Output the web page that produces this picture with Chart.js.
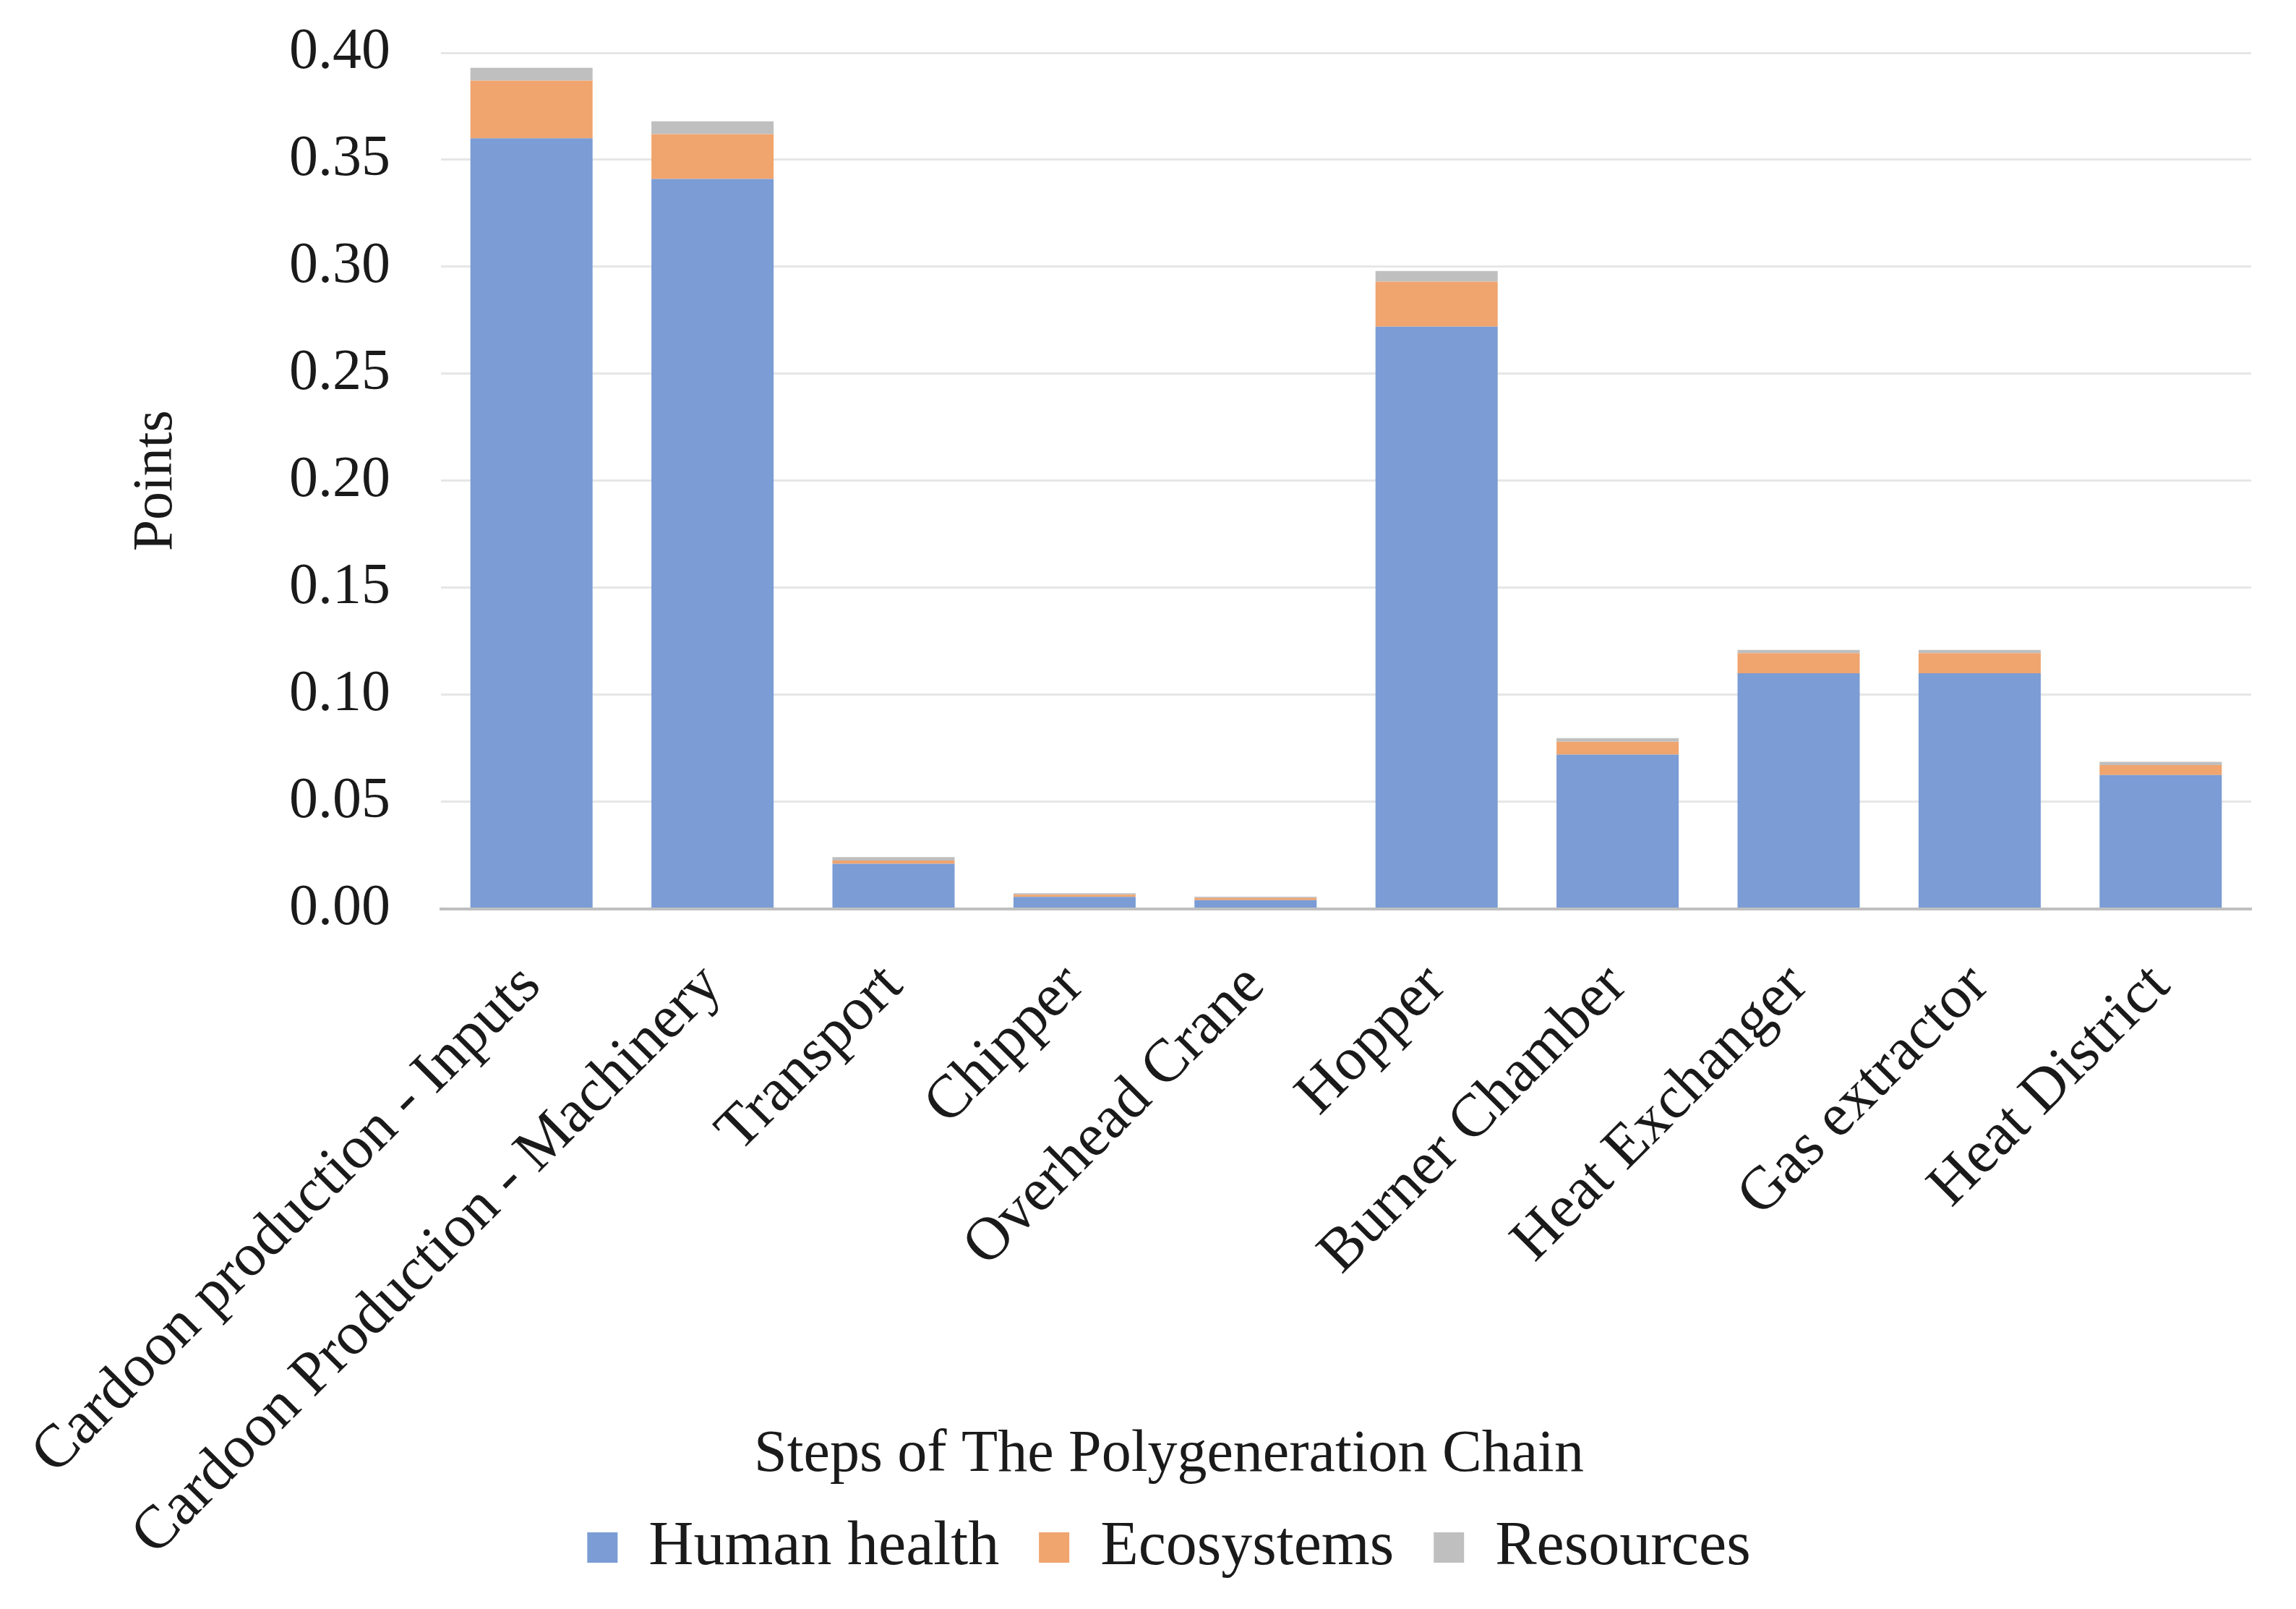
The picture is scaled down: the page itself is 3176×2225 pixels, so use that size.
<!DOCTYPE html>
<html>
<head>
<meta charset="utf-8">
<script src="https://cdn.jsdelivr.net/npm/chart.js@4.4.1/dist/chart.umd.min.js"></script>
<style>
  html, body { margin: 0; padding: 0; background: #fff; }
  #wrap { width: 3176px; height: 2225px; }
</style>
</head>
<body>
<div id="wrap"><canvas id="myChart" width="3176" height="2225"></canvas></div>
<script>
const categories = [
  "Cardoon production - Inputs",
  "Cardoon Production - Machinery",
  "Transport",
  "Chipper",
  "Overhead Crane",
  "Hopper",
  "Burner Chamber",
  "Heat Exchanger",
  "Gas extractor",
  "Heat District",
];
const humanHealth = [0.36, 0.341, 0.021, 0.0055, 0.004, 0.272, 0.072, 0.11, 0.11, 0.0625];
const ecosystems = [0.027, 0.021, 0.0015, 0.001, 0.001, 0.021, 0.006, 0.0094, 0.0094, 0.0046];
const resources = [0.006, 0.006, 0.0016, 0.0007, 0.0006, 0.005, 0.0017, 0.0015, 0.0015, 0.0015];
const yTicks = [0, 0.05, 0.1, 0.15, 0.2, 0.25, 0.3, 0.35, 0.4];

const serif = "'Liberation Serif', 'DejaVu Serif', serif";
const textColor = "#1a1a1a";

const ctx = document.getElementById("myChart");
new Chart(ctx, {
  type: "bar",
  data: {
    labels: categories,
    datasets: [
      { label: "Human health", data: humanHealth, backgroundColor: "#7b9cd4" },
      { label: "Ecosystems", data: ecosystems, backgroundColor: "#f0a46e" },
      { label: "Resources", data: resources, backgroundColor: "#bfbfbf" },
    ],
  },
  options: {
    responsive: false,
    devicePixelRatio: 1,
    animation: false,
    layout: { padding: { top: 73, right: 62, bottom: 32, left: 120 } },
    datasets: { bar: { barPercentage: 0.675, categoryPercentage: 1 } },
    plugins: {
      tooltip: { enabled: false },
      // x axis title sits between tick labels and legend, centred on the page like the original
      title: {
        display: true,
        position: "bottom",
        weight: 500,
        text: "Steps of The Polygeneration Chain",
        font: { family: serif, size: 82, weight: "normal", lineHeight: 1.2 },
        color: textColor,
        padding: { top: 0, bottom: -20 },
      },
      legend: {
        position: "bottom",
        labels: {
          font: { family: serif, size: 86 },
          color: textColor,
          boxWidth: 42,
          boxHeight: 42,
          padding: 55,
        },
      },
    },
    scales: {
      x: {
        stacked: true,
        grid: { display: false },
        border: { color: "#bfbfbf", width: 4 },
        ticks: {
          autoSkip: false,
          maxRotation: 45,
          minRotation: 45,
          padding: 50,
          font: { family: serif, size: 84 },
          color: textColor,
        },
        afterFit: (scale) => {
          scale.height = 707;
          scale.paddingLeft = 0;
          scale.paddingRight = 0;
          // long rotated labels run past the scale box in the original, so no clipping
          scale._computeLabelArea = () => undefined;
        },
      },
      y: {
        stacked: true,
        min: 0,
        max: 0.4,
        afterBuildTicks: (scale) => {
          scale.ticks = yTicks.map((v) => ({ value: v }));
        },
        grid: { color: "#e6e6e6", lineWidth: 3, drawTicks: false },
        border: { display: false },
        ticks: {
          padding: 70,
          font: { family: serif, size: 80 },
          color: textColor,
          callback: (v) => Number(v).toFixed(2),
        },
        title: {
          display: true,
          text: "Points",
          font: { family: serif, size: 78 },
          color: textColor,
          padding: { top: 50, bottom: 0 },
        },
        afterFit: (scale) => {
          scale.width = 490;
          scale.paddingTop = 0;
          scale.paddingBottom = 0;
        },
      },
    },
  },
});
</script>
</body>
</html>
